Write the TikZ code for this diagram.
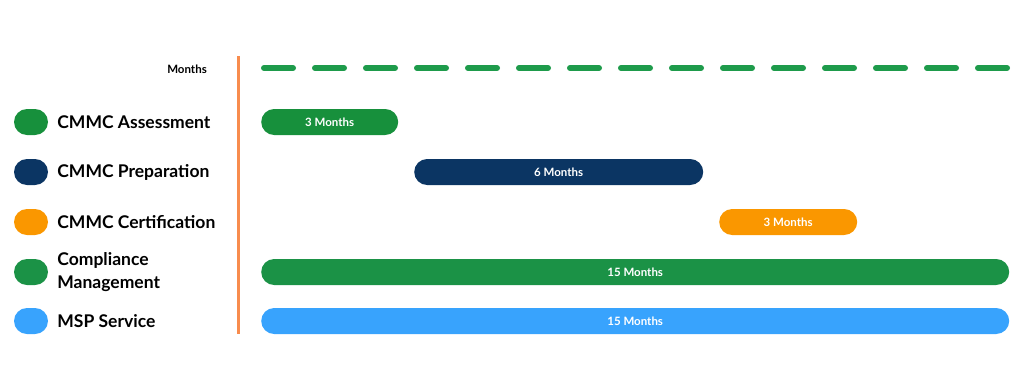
\documentclass[tikz,border=0pt]{standalone}
\usepackage{fontspec}
\setmainfont{Lato}
\usetikzlibrary{positioning}
\definecolor{assessGreen}{HTML}{17903C}
\definecolor{prepNavy}{HTML}{0B3563}
\definecolor{certOrange}{HTML}{FA9700}
\definecolor{compGreen}{HTML}{1B9246}
\definecolor{mspBlue}{HTML}{38A3FD}
\definecolor{axisOrange}{HTML}{F88C4E}
\definecolor{dashGreen}{HTML}{1E9B4B}
\tikzset{
  pill/.style={rounded corners=13pt, minimum width=34pt, minimum height=26pt, inner sep=0pt},
  bar/.style={rounded corners=13pt, minimum height=26pt, inner sep=0pt, anchor=west,
    text=white, font=\fontsize{11.5}{13}\selectfont\bfseries},
  legendlabel/.style={inner sep=0pt, align=left, font=\fontsize{17.5}{23}\selectfont\bfseries},
  timeline/.style={dashGreen, line width=6pt, line cap=round, dash pattern=on 29pt off 22pt}
}
\begin{document}
\begin{tikzpicture}[x=1pt,y=-1pt]
  \useasboundingbox (0,0) rectangle (1024,391);
  % axis and month scale
  \draw[axisOrange, line width=3pt] (238,56) -- (238,334);
  \node[anchor=east, inner sep=0pt, font=\fontsize{11.5}{13}\selectfont\bfseries] (monthsLbl) at (207,69) {Months};
  \coordinate (tlStart) at (264,68);
  \coordinate (tlEnd) at (1008,68);
  \draw[timeline] (tlStart) -- (tlEnd);

  % legend
  \node[pill, fill=assessGreen] (assessPill) at (31,122) {};
  \node[pill, fill=prepNavy] (prepPill) at (31,172) {};
  \node[pill, fill=certOrange] (certPill) at (31,222) {};
  \node[pill, fill=compGreen] (compPill) at (31,272) {};
  \node[pill, fill=mspBlue] (mspPill) at (31,321) {};
  \node[legendlabel, right=9pt of assessPill] (assessLbl) {CMMC Assessment};
  \node[legendlabel, right=9pt of prepPill] (prepLbl) {CMMC Preparation};
  \node[legendlabel, right=9pt of certPill] (certLbl) {CMMC Certification};
  \node[legendlabel, right=9pt of compPill] (compLbl) {Compliance\\Management};
  \node[legendlabel, right=9pt of mspPill] (mspLbl) {MSP Service};

  % bars
  \node[bar, fill=assessGreen, minimum width=137pt] (assessBar) at (261,122) {3 Months};
  \node[bar, fill=prepNavy, minimum width=289pt] (prepBar) at (414,172) {6 Months};
  \node[bar, fill=certOrange, minimum width=138pt] (certBar) at (719,222) {3 Months};
  \node[bar, fill=compGreen, minimum width=748pt] (compBar) at (261,272) {15 Months};
  \node[bar, fill=mspBlue, minimum width=748pt] (mspBar) at (261,321) {15 Months};
\end{tikzpicture}
\end{document}
